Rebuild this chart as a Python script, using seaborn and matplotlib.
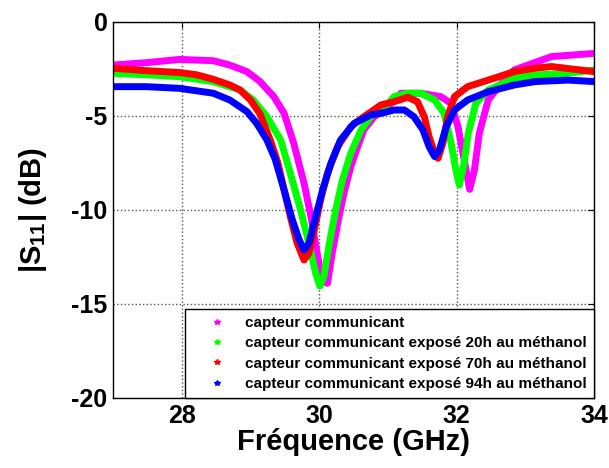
import numpy as np
import pandas as pd
import matplotlib
matplotlib.use("Agg")
import matplotlib.pyplot as plt
import seaborn as sns
from matplotlib.lines import Line2D

# valeurs (GHz, dB)
freq_m = [27.0, 27.49, 27.97, 28.46, 28.70, 28.95, 29.14, 29.34, 29.49, 29.63, 29.78, 29.88,
          29.97, 30.05, 30.12, 30.19, 30.27, 30.36, 30.46, 30.56, 30.65, 30.80, 31.0, 31.19,
          31.48, 31.77, 31.92, 32.02, 32.11, 32.19, 32.26, 32.33, 32.46, 32.65, 32.84, 33.38, 34.0]
s11_m = [-2.29, -2.16, -1.99, -2.06, -2.29, -2.64, -3.17, -3.97, -4.86, -6.45, -8.58, -10.35,
         -12.3, -13.8, -13.9, -12.3, -10.7, -9.11, -7.7, -6.63, -5.74, -5.04, -4.5, -3.79,
         -3.79, -3.97, -4.33, -5.57, -7.34, -8.9, -7.87, -5.92, -4.15, -3.26, -2.55, -1.84, -1.67]

freq_g = [27.0, 27.49, 27.97, 28.46, 28.85, 29.04, 29.24, 29.44, 29.58, 29.73, 29.85, 29.95,
          30.01, 30.07, 30.14, 30.24, 30.34, 30.46, 30.61, 30.75, 30.95, 31.09, 31.29, 31.48,
          31.68, 31.82, 31.92, 31.99, 32.04, 32.10, 32.17, 32.28, 32.46, 32.84, 33.14, 33.62, 34.0]
s11_g = [-2.73, -2.81, -2.91, -3.17, -3.62, -4.15, -5.04, -6.28, -8.05, -10.0, -11.77, -13.37,
         -14.05, -13.5, -11.95, -10.0, -8.4, -6.98, -5.74, -5.04, -4.6, -3.97, -3.79, -3.79,
         -4.15, -4.86, -6.45, -7.87, -8.67, -7.7, -5.92, -4.33, -3.62, -3.0, -2.82, -2.73, -2.55]

freq_r = [27.0, 27.49, 27.97, 28.22, 28.46, 28.70, 28.85, 29.0, 29.14, 29.29, 29.40, 29.49,
          29.58, 29.68, 29.78, 29.85, 29.92, 30.02, 30.12, 30.27, 30.46, 30.65, 30.90, 31.09,
          31.29, 31.43, 31.53, 31.60, 31.68, 31.73, 31.80, 31.87, 31.97, 32.16, 32.46, 32.84,
          33.14, 33.38, 34.0]
s11_r = [-2.46, -2.59, -2.69, -2.81, -3.05, -3.35, -3.62, -4.15, -4.9, -6.3, -7.5, -8.94,
         -10.35, -11.77, -12.66, -12.3, -11.24, -9.47, -8.05, -6.63, -5.57, -5.04, -4.41, -4.24,
         -4.0, -4.24, -5.04, -6.1, -6.98, -7.25, -6.45, -5.04, -3.97, -3.44, -3.09, -2.64,
         -2.46, -2.37, -2.64]

freq_b = [27.0, 27.49, 27.97, 28.46, 28.70, 28.95, 29.09, 29.24, 29.36, 29.49, 29.61, 29.71,
          29.78, 29.85, 29.95, 30.05, 30.17, 30.31, 30.51, 30.75, 30.90, 31.09, 31.24, 31.38,
          31.51, 31.60, 31.68, 31.75, 31.85, 31.97, 32.16, 32.46, 32.84, 33.14, 33.62, 34.0]
s11_b = [-3.44, -3.44, -3.53, -3.79, -4.15, -4.77, -5.39, -6.28, -7.3, -8.94, -10.53, -11.6,
         -12.13, -11.77, -10.35, -8.94, -7.52, -6.28, -5.39, -4.95, -4.86, -4.68, -4.68, -5.04,
         -5.74, -6.63, -7.16, -6.81, -5.57, -4.68, -4.15, -3.71, -3.35, -3.17, -3.09, -3.17]

labels = ["capteur communicant",
          "capteur communicant exposé 20h au méthanol",
          "capteur communicant exposé 70h au méthanol",
          "capteur communicant exposé 94h au méthanol"]
couleurs = ["#ff00ff", "#00ff00", "#ff0000", "#0000ff"]

if __name__ == "__main__":
    sns.set_style("white")
    plt.rcParams['font.family'] = ['Liberation Sans', 'DejaVu Sans']
    plt.rcParams['font.weight'] = 'bold'
    plt.rcParams['axes.unicode_minus'] = False
    plt.rcParams['text.color'] = 'black'
    plt.rcParams['axes.labelcolor'] = 'black'
    plt.rcParams['xtick.color'] = 'black'
    plt.rcParams['ytick.color'] = 'black'
    plt.rcParams['mathtext.fontset'] = 'custom'
    plt.rcParams['mathtext.rm'] = 'Liberation Sans:bold'
    plt.rcParams['mathtext.it'] = 'Liberation Sans:bold'
    plt.rcParams['mathtext.bf'] = 'Liberation Sans:bold'

    series = [(freq_m, s11_m), (freq_g, s11_g), (freq_r, s11_r), (freq_b, s11_b)]
    frames = []
    for lab, (f, s) in zip(labels, series):
        frames.append(pd.DataFrame({'Fréquence': f, 'S11': s, 'Mesure': lab}))
    data = pd.concat(frames, ignore_index=True)

    fig = plt.figure(figsize=(6.09, 4.68), dpi=100)
    ax = fig.add_axes([0.1856, 0.1496, 0.7898, 0.8034])

    sns.lineplot(data=data, x='Fréquence', y='S11', hue='Mesure', hue_order=labels,
                 palette=couleurs, sort=False, estimator=None, linewidth=5,
                 legend=False, ax=ax, solid_joinstyle='round', solid_capstyle='round')

    ax.set_xlim(27, 34)
    ax.set_ylim(-20, 0)
    ax.set_xticks([28, 30, 32, 34])
    ax.set_yticks([0, -5, -10, -15, -20])
    ax.tick_params(direction='in', labelsize=18, length=4, top=True, right=True, pad=4)
    for lab in ax.get_xticklabels() + ax.get_yticklabels():
        lab.set_fontweight('bold')
    ax.grid(True, linestyle=':', color='#555555', linewidth=1)
    for sp in ax.spines.values():
        sp.set_color('black')
        sp.set_linewidth(1)

    ax.set_xlabel("Fréquence (GHz)", fontsize=21, fontweight='bold', labelpad=0)
    ax.set_ylabel(r"$|S_{11}|$ (dB)", fontsize=21, fontweight='bold', labelpad=16)

    handles = [Line2D([], [], color=c, marker='*', linestyle='none', markersize=4) for c in couleurs]
    leg = ax.legend(handles, labels, loc='lower right', borderaxespad=0, fancybox=False,
                    framealpha=1, edgecolor='black', labelspacing=0.42,
                    handlelength=3.3, handletextpad=0.2, borderpad=0.45,
                    prop={'weight': 'bold', 'size': 11})
    leg.get_frame().set_linewidth(1)

    plt.savefig('out.png', dpi=100)
